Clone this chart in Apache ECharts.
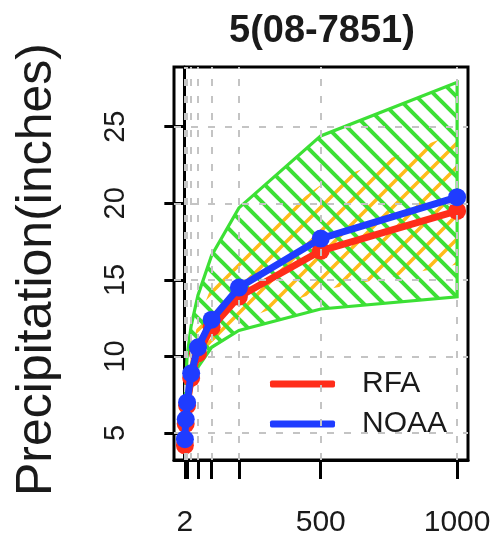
<!DOCTYPE html>
<html><head><meta charset="utf-8">
<script src="https://cdn.jsdelivr.net/npm/echarts@6/dist/echarts.min.js"></script>
<style>html,body{margin:0;padding:0;background:#fff}#c{width:497px;height:540px}</style>
</head><body><div id="c"></div>
<script>
// ---- data ----
const title = '5(08-7851)';
const periods = [2, 5, 10, 25, 50, 100, 200, 500, 1000];
const rfa  = [4.2, 5.6, 6.8, 8.6, 10.2, 11.9, 13.9, 16.9, 19.5];
const noaa = [4.6, 5.9, 7.0, 8.9, 10.6, 12.4, 14.5, 17.7, 20.4];
const greenLow  = [4.3, 5.1, 6.2, 7.9, 9.3, 10.6, 11.7, 13.1, 13.9];
const greenHigh = [5.6, 8.2, 10.0, 12.0, 14.0, 16.6, 19.7, 24.4, 27.9];
const orangeLow  = [4.2, 5.3, 6.4, 8.1, 9.6, 10.9, 12.3, 14.3, 16.0];
const orangeHigh = [4.9, 6.6, 7.9, 10.2, 12.3, 14.6, 17.3, 21.2, 24.6];
const xTicks = [2, 5, 10, 50, 100, 200, 500, 1000];
const xLabels = [2, 500, 1000];
const yTicks = [5, 10, 15, 20, 25];
const gridX = [2, 5, 10, 25, 50, 100, 200, 500, 1000];
const gridY = [5, 10, 15, 20, 25];

function hatch(color, s, w, dir) {
  const c = document.createElement('canvas');
  c.width = s; c.height = s;
  const g = c.getContext('2d');
  g.strokeStyle = color; g.lineWidth = w; g.lineCap = 'square';
  for (let k = -1; k <= 1; k++) {
    g.beginPath();
    if (dir === '\\') { g.moveTo(k * s, 0); g.lineTo(k * s + s, s); }
    else { g.moveTo(k * s, s); g.lineTo(k * s + s, 0); }
    g.stroke();
  }
  return { image: c, repeat: 'repeat' };
}
const GREEN = '#3ce035', ORANGE = '#ffbb1a';
const greenPat = hatch(GREEN, 20, 4, '\\');
const orangePat = hatch(ORANGE, 24, 3.5, '/');

function band(low, high, pat, stroke, z) {
  return {
    type: 'custom', z: z, silent: true, clip: true,
    data: periods.map((p, i) => [p, high[i]]),
    renderItem: function (params, api) {
      if (params.dataIndex !== 0) return;
      const pts = [];
      for (let i = 0; i < periods.length; i++) pts.push(api.coord([periods[i], high[i]]));
      for (let i = periods.length - 1; i >= 0; i--) pts.push(api.coord([periods[i], low[i]]));
      return { type: 'polygon', shape: { points: pts },
        style: { fill: pat, stroke: stroke, lineWidth: stroke === 'none' ? 0 : 3.2 } };
    }
  };
}

const font = 'Liberation Sans, Arial, sans-serif';
const chart = echarts.init(document.getElementById('c'));
chart.setOption({
  animation: false,
  backgroundColor: '#fff',
  title: { text: title, left: 224, top: 8,
    textStyle: { fontFamily: font, fontSize: 38, fontWeight: 'bold', color: '#1a1a1a' } },
  grid: { left: 174, right: 29, top: 67, bottom: 80, show: true, borderColor: '#000', borderWidth: 3, backgroundColor: 'transparent' },
  legend: {
    orient: 'vertical', left: 265, top: 364, itemWidth: 65, itemHeight: 7, itemGap: 10,
    icon: 'roundRect',
    textStyle: { fontFamily: font, fontSize: 30, color: '#1a1a1a', padding: [0, 0, 0, 22] },
    data: ['RFA', 'NOAA']
  },
  xAxis: {
    type: 'value', min: -37.92, max: 1039.92,
    axisLine: { show: true, lineStyle: { color: '#000', width: 3 } },
    axisTick: { show: true, length: 19, customValues: xTicks, lineStyle: { color: '#000', width: 3 } },
    axisLabel: { customValues: xLabels, formatter: v => String(v), fontFamily: font, fontSize: 30, color: '#1a1a1a', margin: 48 },
    splitLine: { show: false }
  },
  yAxis: {
    type: 'value', min: 3.24, max: 28.9,
    name: 'Precipitation(inches)', nameLocation: 'middle', nameGap: 112, nameRotate: 90,
    nameTextStyle: { fontFamily: font, fontSize: 50, color: '#1a1a1a', padding: [0, 12, 0, 0] },
    axisLine: { show: true, lineStyle: { color: '#000', width: 3 } },
    axisTick: { show: true, length: 20, customValues: yTicks, lineStyle: { color: '#000', width: 3 } },
    axisLabel: { customValues: yTicks, rotate: 90, fontFamily: font, fontSize: 29, color: '#1a1a1a', margin: 44 },
    splitLine: { show: false }
  },
  series: [
    { type: 'line', data: [], z: 1, silent: true,
      markLine: { silent: true, symbol: 'none', label: { show: false },
        lineStyle: { color: '#c4c4c4', width: 2, type: [7, 10] },
        data: gridX.map(v => ({ xAxis: v })).concat(gridY.map(v => ({ yAxis: v }))) } },
    band(orangeLow, orangeHigh, orangePat, 'none', 2),
    band(greenLow, greenHigh, greenPat, GREEN, 3),
    { name: 'RFA', type: 'line', z: 4, data: periods.map((p, i) => [p, rfa[i]]),
      symbol: 'circle', symbolSize: 18, itemStyle: { color: '#ff2d1a' },
      lineStyle: { color: '#ff2d1a', width: 7 } },
    { name: 'NOAA', type: 'line', z: 5, data: periods.map((p, i) => [p, noaa[i]]),
      symbol: 'circle', symbolSize: 18, itemStyle: { color: '#1f3cff' },
      lineStyle: { color: '#1f3cff', width: 7 } }
  ]
});
</script></body></html>
